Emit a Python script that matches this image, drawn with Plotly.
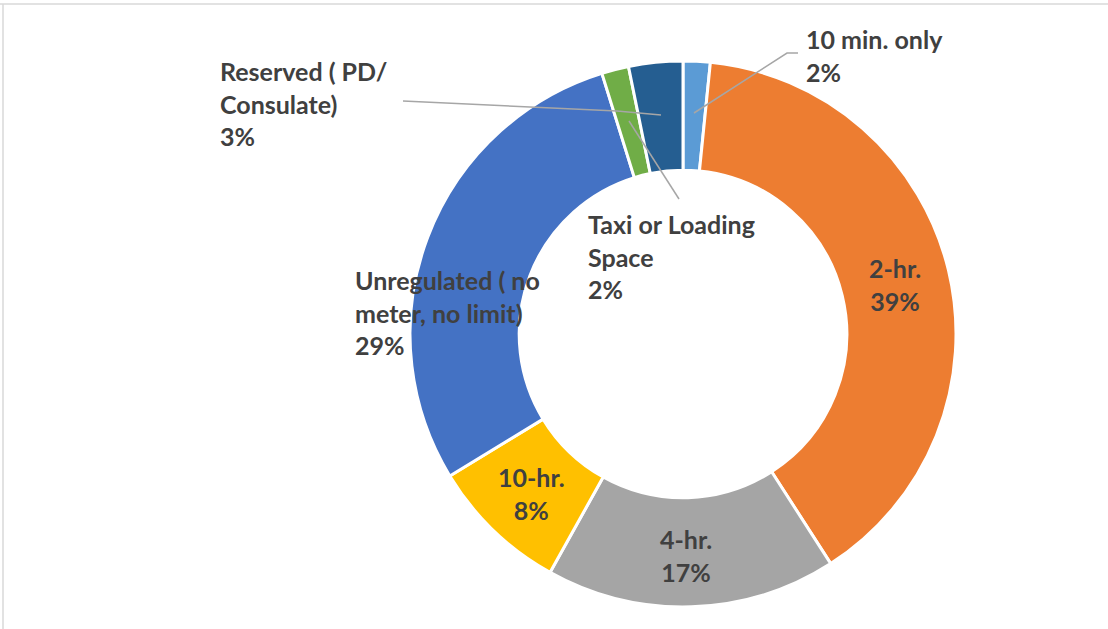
import plotly.graph_objects as go

# parking regulation shares (percent of spaces)
categories = [
    "10 min. only",
    "2-hr.",
    "4-hr.",
    "10-hr.",
    "Unregulated ( no meter, no limit)",
    "Taxi or Loading Space",
    "Reserved ( PD/ Consulate)",
]
values = [1.6, 39.3, 17.2, 8.2, 28.9, 1.6, 3.2]
colors = ["#5B9BD5", "#ED7D31", "#A5A5A5", "#FFC000", "#4472C4", "#70AD47", "#255E91"]

# how each label wraps in the chart
wrapped = [
    "10 min. only",
    "2-hr.",
    "4-hr.",
    "10-hr.",
    "Unregulated ( no<br>meter, no limit)",
    "Taxi or Loading<br>Space",
    "Reserved ( PD/<br>Consulate)",
]

W, H = 1108, 629
total = sum(values)
pct = [round(v / total * 100) for v in values]


def px_x(x):
    return x / W


def px_y(y):
    return 1 - y / H


fig = go.Figure()

fig.add_trace(go.Pie(
    labels=categories,
    values=values,
    hole=0.6,
    sort=False,
    direction="clockwise",
    rotation=0,
    marker=dict(colors=colors, line=dict(color="white", width=3)),
    textinfo="none",
    hoverinfo="label+percent",
    showlegend=False,
    domain=dict(x=[px_x(410), px_x(956)], y=[px_y(607), px_y(61)]),
))

# label placement in pixels: (x, y, anchor)
label_pos = [
    (804, 55, "left"),
    (895, 284, "center"),
    (686, 555, "center"),
    (531, 493, "center"),
    (353, 312, "left"),
    (586, 256, "left"),
    (218, 103, "left"),
]

font = dict(family="Lato, sans-serif", size=25, color="#404040")
for name, p, (x, y, anc) in zip(wrapped, pct, label_pos):
    fig.add_annotation(
        x=x, y=y, xref="x", yref="y",
        text="<b>%s<br>%d%%</b>" % (name, p),
        showarrow=False, xanchor=anc, yanchor="middle", align=anc,
        font=font,
    )

# leader lines
leaders = [
    "M 798 53 L 787 53 L 694 113",
    "M 403 101 L 617 111 L 661 115",
    "M 629 121 L 679 199",
]
for path in leaders:
    fig.add_shape(type="path", path=path, xref="x", yref="y",
                  line=dict(color="#A6A6A6", width=1.5))

# chart frame
fig.add_shape(type="line", x0=0, x1=W, y0=4, y1=4, xref="x", yref="y",
              line=dict(color="#D9D9D9", width=1.5))
fig.add_shape(type="line", x0=3, x1=3, y0=4, y1=H, xref="x", yref="y",
              line=dict(color="#D9D9D9", width=1.5))

fig.update_layout(
    width=W,
    height=H,
    margin=dict(l=0, r=0, t=0, b=0),
    paper_bgcolor="white",
    plot_bgcolor="rgba(0,0,0,0)",
    xaxis=dict(range=[0, W], visible=False, fixedrange=True),
    yaxis=dict(range=[H, 0], visible=False, fixedrange=True),
)

# drop the default page margin so the figure fills the window exactly
fig.write_html(
    "out.html",
    config={"displayModeBar": False},
    post_script="document.body.style.margin='0';",
)
